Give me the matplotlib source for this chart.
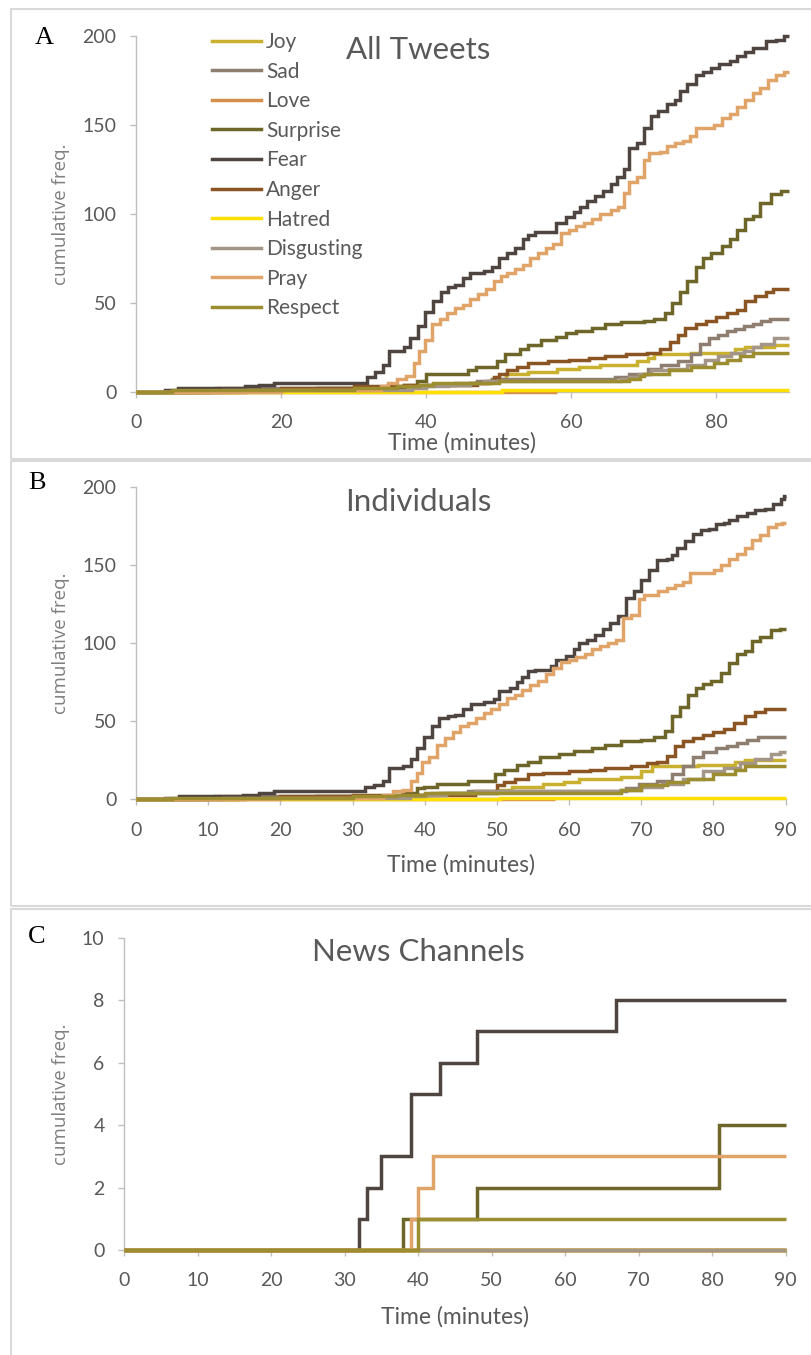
import matplotlib
matplotlib.use("Agg")
import matplotlib.pyplot as plt
from matplotlib import font_manager
from matplotlib.lines import Line2D
from matplotlib.patches import Rectangle


def pick_font(*names):
    available = {f.name for f in font_manager.fontManager.ttflist}
    for n in names:
        if n in available:
            return n
    return "DejaVu Sans"


SANS = pick_font("Lato", "Liberation Sans", "DejaVu Sans")
LABEL_FONT = pick_font("Open Sans", "DejaVu Sans")
SERIF = pick_font("Liberation Serif", "DejaVu Serif")

# ---------------------------------------------------------------- categories
EMOTIONS = ["Joy", "Sad", "Love", "Surprise", "Fear", "Anger",
            "Hatred", "Disgusting", "Pray", "Respect"]
COLORS = ["#C9B02F", "#8E7E70", "#D4904A", "#6E6528", "#4E4540",
          "#8A5523", "#FFE000", "#A39587", "#E0A468", "#9C8D30"]

# time axis limits (minutes); the Love series stops being recorded early
T_END = 90
LOVE_END = 58

# ---------------------------------------------------------------- A: all tweets
# (minute, cumulative count) at each change of the running total
A_JOY = [(0, 0), (14, 1), (30, 2), (38, 3), (41, 4), (46, 5), (49, 7), (51, 10),
         (54, 11), (58, 13), (61, 14), (64, 15), (69, 17), (70.5, 19), (71.4, 21),
         (76.5, 22), (82.6, 24), (84, 25), (88, 26)]
A_SAD = [(0, 0), (8, 1), (11, 2), (37, 3), (40, 4), (44, 5), (47, 6), (49, 7),
         (66, 8), (68, 10), (70.5, 13), (72.3, 15), (74.7, 17), (76.5, 21),
         (77.8, 27), (79, 30), (80.2, 32), (81.4, 34), (82.6, 35), (83.8, 37),
         (85, 38), (86.2, 40), (87.4, 41)]
A_LOVE = [(0, 0)]
A_SURPRISE = [(0, 0), (10, 1), (25, 2), (37, 4), (38.7, 6), (40, 10), (45.8, 12),
              (46.8, 14), (49.7, 17), (50.8, 21), (52.9, 24), (54, 26), (55.8, 29),
              (57.9, 31), (59.3, 33), (60.7, 34), (62.9, 36), (64.7, 38), (66.8, 39),
              (70, 40), (71.4, 41), (72.9, 44), (73.9, 50), (75, 56), (76, 62),
              (77.2, 70), (78.2, 75), (79.3, 78), (80.7, 82), (81.8, 86), (82.9, 91),
              (83.9, 97), (85, 99), (86, 106), (87.5, 111), (88.9, 113)]
A_FEAR = [(0, 0), (4, 1), (5.8, 2), (15, 3), (17, 4), (19, 5), (31.9, 8), (33, 11),
          (34, 15), (34.9, 23), (36.9, 25), (37.8, 30), (38.9, 37), (39.9, 45),
          (41, 51), (42, 56), (43, 59), (44, 60), (45, 64), (46.1, 67), (47.9, 68),
          (49, 70), (50, 75), (51.1, 78), (52.2, 81), (53.3, 86), (54, 88), (55, 90),
          (57.9, 95), (59.3, 98), (60.4, 101), (61.2, 104), (62.2, 107), (63.2, 110),
          (64.3, 113), (65.4, 117), (66.3, 121), (67.2, 125), (67.9, 137), (69, 140),
          (70, 148), (71, 155), (72, 158), (73.2, 162), (74.3, 164), (75, 169),
          (76, 173), (77.2, 178), (78.2, 180), (79.3, 182), (80.4, 184), (81.8, 186),
          (82.9, 189), (83.9, 191), (85, 193), (86.8, 197), (88.2, 198), (89.3, 200)]
A_ANGER = [(0, 0), (15, 1), (20, 2), (30, 3), (37, 4), (47, 5), (48.5, 6), (49.3, 8),
           (50, 10), (51.1, 12), (52.5, 14), (54, 16), (56.8, 17), (59.7, 18),
           (62.5, 19), (64.7, 20), (67.5, 21), (70.4, 22), (72.2, 24), (73.6, 28),
           (74.7, 32), (75.7, 36), (77.2, 38), (78.6, 40), (80, 42), (81.4, 44),
           (82.9, 46), (83.9, 51), (85.3, 54), (86.8, 56), (87.8, 58)]
A_HATRED = [(0, 0), (50.5, 1)]
A_DISGUSTING = [(0, 0), (12, 1), (38, 2), (40, 3), (43, 4), (46, 5), (48, 6),
                (66.8, 7), (68, 8), (69.3, 10), (71, 12), (73.5, 13), (75.9, 15),
                (78.4, 18), (80.2, 20), (82, 22), (83.8, 23), (85, 25), (86.2, 27),
                (88, 30)]
A_PRAY = [(0, 0), (20, 1), (33.7, 3), (34.8, 5), (36, 7), (37.2, 9), (38.3, 16),
          (39, 23), (39.9, 29), (40.8, 38), (41.9, 41), (42.9, 44), (44, 47),
          (45, 49), (46.1, 52), (47.2, 55), (48.3, 58), (49.3, 62), (50.3, 65),
          (51.1, 67), (52.2, 69), (53.3, 71), (54.3, 75), (55.4, 78), (56.5, 81),
          (57.5, 83), (58.6, 89), (59.7, 91), (60.7, 93), (61.8, 95), (62.9, 97),
          (64, 100), (65.4, 102), (66.5, 104), (67.2, 112), (67.9, 118), (69, 121),
          (70, 130), (70.7, 134), (72.2, 135), (73.2, 138), (74.3, 140), (75.4, 141),
          (76.4, 144), (77.2, 148), (79.6, 150), (80.7, 154), (81.8, 156),
          (82.9, 160), (83.9, 164), (85, 168), (86, 171), (87.1, 175), (88.2, 178),
          (89.3, 180)]
A_RESPECT = [(0, 0), (5, 1), (30, 2), (36, 3), (39, 4), (41, 5), (50, 6), (68, 7),
             (69.5, 9), (70, 10), (73.5, 12), (76.5, 14), (79.6, 16), (81.4, 18),
             (83.2, 20), (85, 22)]

# ---------------------------------------------------------------- B: individuals
B_JOY = [(0, 0), (14, 1), (30, 2), (38, 3), (42, 4), (47, 5), (50, 6), (52.1, 8),
         (56.4, 10), (59.3, 11), (61.4, 13), (67.2, 14), (70, 18), (71.5, 21),
         (77.9, 22), (83, 24), (84.4, 25)]
B_SAD = [(0, 0), (8, 1), (11, 2), (37, 3), (41, 4), (46, 5), (67.9, 7), (69.7, 10),
         (72.2, 12), (74.3, 16), (75.8, 21), (77.2, 27), (78.6, 30), (80.4, 33),
         (81.9, 34), (83.3, 36), (84.7, 38), (86.2, 40)]
B_LOVE = [(0, 0)]
B_SURPRISE = [(0, 0), (10, 1), (25, 2), (37, 4), (38.9, 7), (39.9, 8), (41.7, 10),
              (46, 12), (49.8, 16), (51, 19), (52.8, 22), (54.3, 24), (56, 27),
              (58.6, 29), (60.7, 31), (63.2, 33), (65, 35), (67.2, 37), (70, 38),
              (71.8, 40), (73.3, 44), (74.3, 53), (75.4, 59), (76.5, 67), (77.6, 71),
              (78.6, 74), (79.7, 76), (81.1, 81), (82.2, 87), (83.3, 93), (84.4, 95),
              (85.4, 101), (86.5, 104), (88, 108), (89.3, 109)]
B_FEAR = [(0, 0), (4, 1), (5.9, 2), (14.8, 3), (17, 4), (19.1, 5), (31.8, 8),
          (33, 9), (34.2, 12), (35, 20), (37, 21), (38.1, 26), (39, 33), (39.9, 40),
          (41, 47), (42, 52), (43.2, 53), (44.2, 54), (45.3, 58), (46.4, 61),
          (48.2, 62), (49.6, 64), (50.3, 69), (51.8, 71), (52.8, 75), (53.5, 78),
          (54.3, 82), (55.3, 83), (57.5, 85), (58.2, 89), (59.6, 92), (60.7, 96),
          (61.4, 100), (62.5, 102), (63.6, 105), (64.7, 109), (65.7, 113),
          (66.8, 117), (67.9, 129), (69, 133), (70, 140), (71.1, 147), (72.2, 153),
          (73.6, 154), (74.3, 156), (75, 161), (76.1, 165), (77.2, 170), (78.3, 172),
          (79.4, 173), (80.4, 176), (81.5, 177), (82.2, 179), (83.3, 181),
          (84.7, 183), (85.8, 185), (87.2, 186), (88.3, 189), (89.4, 192), (89.8, 194)]
B_ANGER = [(0, 0), (15, 1), (20, 2), (30, 3), (47, 4), (50, 9), (51, 11), (52.5, 13),
           (54.3, 16), (56.4, 17), (60, 18), (62.9, 19), (65, 20), (68.6, 21),
           (70.8, 23), (72.2, 24), (73.6, 28), (74.7, 34), (75.8, 37), (77.2, 39),
           (78.6, 41), (80, 43), (81.5, 45), (82.9, 49), (84.4, 53), (85.8, 56),
           (87.2, 58)]
B_HATRED = [(0, 0), (50.5, 1)]
B_DISGUSTING = [(0, 0), (12, 1), (38, 2), (40, 3), (43, 4), (47, 5), (67.2, 6),
                (70, 8), (72.9, 10), (75.8, 13), (78.6, 18), (81.5, 20), (83.7, 23),
                (85.8, 26), (88, 29), (89.3, 30)]
B_PRAY = [(0, 0), (20, 1), (34.2, 3), (35.6, 5), (37, 6), (38.1, 12), (38.9, 17),
          (39.6, 24), (40.6, 27), (41.7, 35), (42.8, 39), (43.9, 43), (44.9, 47),
          (46, 49), (47.1, 52), (48.2, 55), (49.2, 58), (50.3, 61), (51.4, 65),
          (52.5, 67), (53.5, 70), (54.6, 73), (55.7, 76), (56.8, 80), (57.8, 84),
          (58.9, 88), (60, 89), (61, 91), (62.2, 93), (63.2, 96), (64.3, 98),
          (65.4, 100), (66.5, 102), (67.5, 116), (68.6, 118), (69.7, 128),
          (70.4, 131), (72.3, 133), (73.6, 135), (74.7, 137), (75.8, 139),
          (76.8, 145), (80.1, 147), (81.1, 150), (82.2, 154), (83.3, 157),
          (84.4, 161), (85.4, 166), (86.5, 169), (87.6, 174), (88.7, 176), (89.5, 177)]
B_RESPECT = [(0, 0), (5, 1), (30, 2), (36, 3), (40, 4), (67.2, 6), (70, 9),
             (73.6, 11), (76.5, 13), (80, 16), (83, 19), (84.4, 21)]

# ---------------------------------------------------------------- C: news channels
C_JOY = [(0, 0)]
C_SAD = [(0, 0)]
C_LOVE = [(0, 0)]
C_SURPRISE = [(0, 0), (38, 1), (48, 2), (81, 4)]
C_FEAR = [(0, 0), (32, 1), (33, 2), (34, 2), (35, 3), (39, 5), (43, 6), (48, 7),
          (67, 8)]
C_ANGER = [(0, 0)]
C_HATRED = [(0, 0)]
C_DISGUSTING = [(0, 0)]
C_PRAY = [(0, 0), (39, 1), (40, 2), (42, 3)]
C_RESPECT = [(0, 0), (40, 1)]

PANEL_A = [A_JOY, A_SAD, A_LOVE, A_SURPRISE, A_FEAR, A_ANGER, A_HATRED,
           A_DISGUSTING, A_PRAY, A_RESPECT]
PANEL_B = [B_JOY, B_SAD, B_LOVE, B_SURPRISE, B_FEAR, B_ANGER, B_HATRED,
           B_DISGUSTING, B_PRAY, B_RESPECT]
PANEL_C = [C_JOY, C_SAD, C_LOVE, C_SURPRISE, C_FEAR, C_ANGER, C_HATRED,
           C_DISGUSTING, C_PRAY, C_RESPECT]

# ---------------------------------------------------------------- layout
W, H = 811, 1355
DPI = 100
TEXT = "#595959"
AXIS = "#BFBFBF"
FRAME = "#D9D9D9"
LW = 2.5

fig = plt.figure(figsize=(W / DPI, H / DPI), dpi=DPI)
fig.patch.set_facecolor("white")


def fx(px):
    return px / W


def fy(py):
    return 1 - py / H


def add_panel(left, right, top, bottom):
    return fig.add_axes([fx(left), fy(bottom), fx(right - left), (bottom - top) / H])


def draw_series(ax, series, love_stops):
    for name, color, pts in zip(EMOTIONS, COLORS, series):
        t = [p[0] for p in pts]
        v = [p[1] for p in pts]
        stop = LOVE_END if (name == "Love" and love_stops) else T_END
        t = t + [stop]
        v = v + [v[-1]]
        ax.step(t, v, where="post", color=color, lw=LW, label=name,
                solid_joinstyle="miter", solid_capstyle="butt", clip_on=False)


def style_axes(ax, yticks, xticks, ylim, left_px, width_px,
               xlabel_y_px, bottom_px, height_px):
    ax.set_xlim(0, T_END)
    ax.set_ylim(*ylim)
    ax.set_yticks(yticks)
    ax.set_xticks(xticks)
    for s in ("top", "right"):
        ax.spines[s].set_visible(False)
    for s in ("left", "bottom"):
        ax.spines[s].set_color(AXIS)
        ax.spines[s].set_linewidth(1.0)
        ax.spines[s].set_zorder(0)
    ax.tick_params(axis="both", direction="out", length=4, width=1.0,
                   color=AXIS, labelcolor=TEXT, labelsize=14)
    ax.tick_params(axis="y", pad=10)
    ax.tick_params(axis="x", pad=12)
    for lab in ax.get_xticklabels() + ax.get_yticklabels():
        lab.set_fontfamily(SANS)
    ax.set_xlabel("Time (minutes)", fontsize=16.5, color=TEXT, family=SANS)
    ax.xaxis.set_label_coords(0.5, (bottom_px - xlabel_y_px) / height_px)
    ax.xaxis.label.set_va("center")
    ax.set_ylabel("cumulative freq.", fontsize=13.5, color="#7F7F7F",
                  family=LABEL_FONT)
    ax.yaxis.set_label_coords((61 - left_px) / width_px, 0.5)
    ax.yaxis.label.set_va("center")
    ax.set_facecolor("none")


# panel frames
for top, bottom in ((9, 459), (461, 906), (909, 1362)):
    fig.patches.append(Rectangle((fx(11), fy(bottom)), fx(W + 10 - 11),
                                 (bottom - top) / H, transform=fig.transFigure,
                                 fill=False, edgecolor=FRAME, lw=1.5))

TITLE_SIZE = 22.5
LETTER_SIZE = 19

# ---- A
axA = add_panel(136, 789, 36, 391.7)
draw_series(axA, PANEL_A, True)
style_axes(axA, [0, 50, 100, 150, 200], [0, 20, 40, 60, 80], (0, 200),
           136, 653, 443, 391.7, 355.7)
fig.text(fx(418), fy(50), "All Tweets", ha="center", va="center",
         fontsize=TITLE_SIZE, color=TEXT, family=SANS)
fig.text(fx(44), fy(38), "A", ha="center", va="center", fontsize=LETTER_SIZE,
         color="black", family=SERIF)

handles = [Line2D([], [], color=c, lw=LW) for c in COLORS]
fs_leg = 15
em = fs_leg * DPI / 72
axA.legend(handles, EMOTIONS, loc="upper left",
           bbox_to_anchor=(fx(212), fy(32)), bbox_transform=fig.transFigure,
           frameon=False, labelcolor=TEXT,
           prop={"family": SANS, "size": fs_leg},
           handlelength=49 / em, handletextpad=5 / em, labelspacing=0.46,
           borderpad=0, borderaxespad=0)

# ---- B
axB = add_panel(136, 785.5, 486.7, 799.3)
draw_series(axB, PANEL_B, True)
style_axes(axB, [0, 50, 100, 150, 200], list(range(0, 91, 10)), (0, 200),
           136, 649.5, 865, 799.3, 312.6)
fig.text(fx(418), fy(502), "Individuals", ha="center", va="center",
         fontsize=TITLE_SIZE, color=TEXT, family=SANS)
fig.text(fx(37), fy(483), "B", ha="center", va="center", fontsize=LETTER_SIZE,
         color="black", family=SERIF)

# ---- C
axC = add_panel(124, 785.5, 937.7, 1250)
draw_series(axC, PANEL_C, False)
style_axes(axC, [0, 2, 4, 6, 8, 10], list(range(0, 91, 10)), (0, 10),
           124, 661.5, 1317, 1250, 312.3)
fig.text(fx(418), fy(952), "News Channels", ha="center", va="center",
         fontsize=TITLE_SIZE, color=TEXT, family=SANS)
fig.text(fx(37), fy(937), "C", ha="center", va="center", fontsize=LETTER_SIZE,
         color="black", family=SERIF)

fig.savefig("out.png", dpi=DPI, facecolor="white")
